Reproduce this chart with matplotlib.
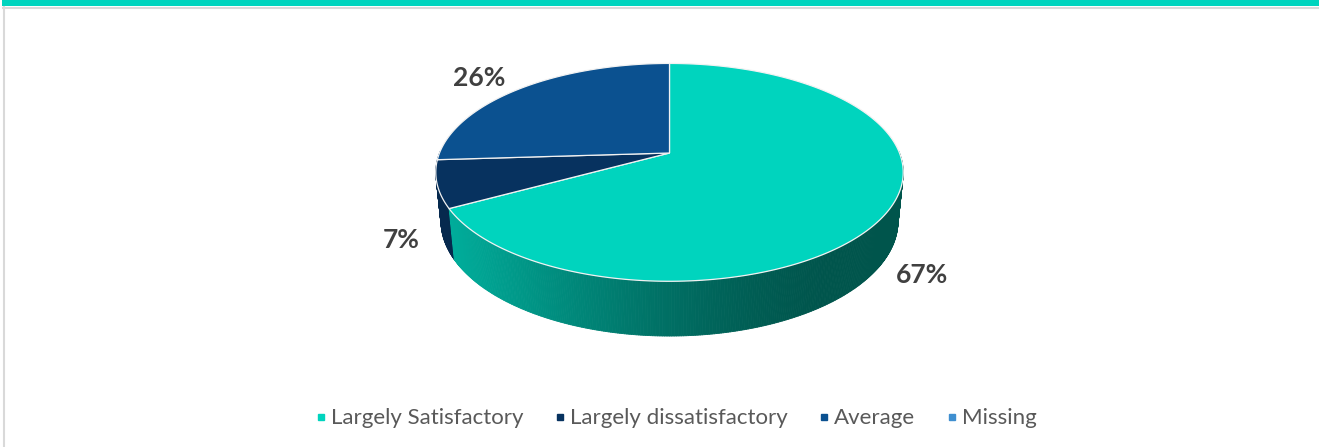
import matplotlib
matplotlib.use("Agg")
import matplotlib.pyplot as plt
import numpy as np
from matplotlib.collections import PolyCollection
from matplotlib.patches import Polygon, Rectangle
from matplotlib.lines import Line2D

categories = ["Largely Satisfactory", "Largely dissatisfactory", "Average", "Missing"]
shares = [67, 7, 26, 0]
pct_labels = ["67%", "7%", "26%", ""]
colors = ["#00D4BE", "#07325F", "#0B5190", "#3F8FD0"]

# where each percentage sits: radius and height (fraction of wall depth)
label_r = [1.17, 1.17, 1.32, 1.2]
label_z = [-1.0, -1.0, -0.17, 0.0]

W, H = 1319, 447
fig = plt.figure(figsize=(W / 100, H / 100), dpi=100)
ax = fig.add_axes([0, 0, 1, 1])
ax.set_xlim(0, W)
ax.set_ylim(H, 0)
ax.axis("off")

# perspective camera for the 3-D pie
CX, CY = 669.5, 153
TILT = np.radians(27.3)
DIST = 5.0
FOC = 1150
DEPTH = 0.24


def proj(x, y, z):
    yc = y * np.sin(TILT) + z * np.cos(TILT)
    d = DIST + y * np.cos(TILT) - z * np.sin(TILT)
    return CX + FOC * x / d, CY - FOC * yc / d


def shade(theta):
    # lighter on the left, darker toward the right front
    t = np.clip((np.mod(theta, 360) - 200) / 110, 0, 1)
    return 0.40 + 0.42 * (0.5 + 0.5 * np.cos(np.pi * t))


total = float(sum(shares))
cum = np.concatenate([[0], np.cumsum(shares)]) / total * 360
starts = 90 - cum[:-1]
ends = 90 - cum[1:]

# side walls, drawn far to near
quads, qcols, qdepth = [], [], []
for i, v in enumerate(shares):
    if v == 0:
        continue
    ang = np.linspace(starts[i], ends[i], max(int(abs(starts[i] - ends[i]) * 2), 2))
    base = np.array(matplotlib.colors.to_rgb(colors[i]))
    for a0, a1 in zip(ang[:-1], ang[1:]):
        am = np.radians((a0 + a1) / 2)
        if np.sin(am) > 0.02:
            continue
        r0, r1 = np.radians(a0), np.radians(a1)
        p = [proj(np.cos(r0), np.sin(r0), 0), proj(np.cos(r1), np.sin(r1), 0),
             proj(np.cos(r1), np.sin(r1), -DEPTH), proj(np.cos(r0), np.sin(r0), -DEPTH)]
        quads.append(p)
        qcols.append(base * shade((a0 + a1) / 2))
        qdepth.append(np.sin(am))

order = np.argsort(qdepth)[::-1]
walls = PolyCollection([quads[k] for k in order], facecolors=[qcols[k] for k in order],
                       edgecolors=[qcols[k] for k in order], linewidths=0.6, zorder=2)
ax.add_collection(walls)

# top faces
for i, v in enumerate(shares):
    if v == 0:
        continue
    ang = np.radians(np.linspace(starts[i], ends[i], 200))
    pts = [proj(0, 0, 0)] + [proj(np.cos(a), np.sin(a), 0) for a in ang]
    ax.add_patch(Polygon(pts, closed=True, facecolor=colors[i], edgecolor="#F2F2F2",
                         linewidth=0.9, zorder=3))

# percentage labels
for i, v in enumerate(shares):
    if v == 0:
        continue
    mid = np.radians((starts[i] + ends[i]) / 2)
    lx, ly = proj(label_r[i] * np.cos(mid), label_r[i] * np.sin(mid), label_z[i] * DEPTH)
    ax.text(lx, ly, pct_labels[i], ha="center", va="center", fontsize=19,
            fontweight="bold", family=["Lato", "DejaVu Sans"], color="#404040", zorder=5)

# frame and top band
ax.add_patch(Rectangle((2, 0), W, 6, facecolor="#00D4BE", edgecolor="none", zorder=1))
ax.plot([3.5, 3.5], [7, H], color="#D9D9D9", lw=1.5, zorder=1)
ax.plot([3, W], [7.5, 7.5], color="#D9D9D9", lw=1.5, zorder=1)

handles = [Line2D([], [], marker="s", ls="", color=c, markersize=5) for c in colors]
fig.legend(handles, categories, loc="center", bbox_to_anchor=(0.513, 0.064), ncol=4,
           frameon=False, handlelength=0.4, handletextpad=0.25, columnspacing=1.45,
           prop={"family": ["Lato", "DejaVu Sans"], "size": 16}, labelcolor="#595959")

fig.savefig("out.png", dpi=100)
